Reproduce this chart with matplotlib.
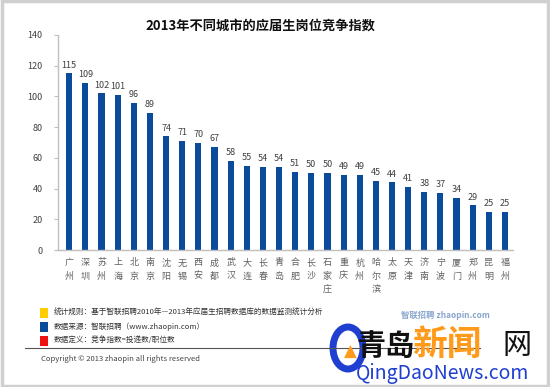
import matplotlib.pyplot as plt
from matplotlib.patches import Rectangle, Ellipse
from matplotlib.lines import Line2D

plt.rcParams['font.family'] = ['Noto Sans CJK SC', 'DejaVu Sans']

cities = ['广州', '深圳', '苏州', '上海', '北京', '南京', '沈阳', '无锡', '西安', '成都',
          '武汉', '大连', '长春', '青岛', '合肥', '长沙', '石家庄', '重庆', '杭州', '哈尔滨',
          '太原', '天津', '济南', '宁波', '厦门', '郑州', '昆明', '福州']
values = [115, 109, 102, 101, 96, 89, 74, 71, 70, 67,
          58, 55, 54, 54, 51, 50, 50, 49, 49, 45,
          44, 41, 38, 37, 34, 29, 25, 25]
y_ticks = [0, 20, 40, 60, 80, 100, 120, 140]

notes = ['统计规则：基于智联招聘2010年—2013年应届生招聘数据库的数据监测统计分析',
         '数据来源：智联招聘（www.zhaopin.com）',
         '数据定义：竞争指数=投递数/职位数']
note_colors = ['#ffcc00', '#0a4b9c', '#ee1111']

bar_color = '#0a4b9c'
axis_gray = '#bfbfbf'

fig = plt.figure(figsize=(5.5, 3.87), dpi=100)
ax = fig.add_axes([58 / 550, 1 - 250 / 387, 455 / 550, 215 / 387])

x = range(len(cities))
ax.bar(x, values, width=0.38, color=bar_color)
for xi, v in zip(x, values):
    ax.text(xi, v + 2.5, str(v), ha='center', va='bottom', fontsize=6.5, color='#404040')

ax.set_xlim(-0.7, len(cities) - 0.5)
ax.set_ylim(0, 140)
ax.set_yticks(y_ticks)
ax.tick_params(axis='y', labelsize=6.5, labelcolor='#404040', color=axis_gray,
               length=3, width=0.8, pad=8)
ax.set_xticks(list(x))
ax.set_xticklabels(['\n'.join(c) for c in cities], fontsize=6.5, color='#606060',
                   linespacing=1.6, va='top')
ax.tick_params(axis='x', length=0, pad=6)
for s in ['top', 'right']:
    ax.spines[s].set_visible(False)
for s in ['left', 'bottom']:
    ax.spines[s].set_color(axis_gray)
    ax.spines[s].set_linewidth(1)

fig.text(260 / 550, 1 - 26 / 387, '2013年不同城市的应届生岗位竞争指数', ha='center', va='center',
         fontsize=9.5, fontweight='bold', color='#111111')

# notes with coloured squares
for i, (t, c) in enumerate(zip(notes, note_colors)):
    yc = 313 + i * 14
    fig.patches.append(Rectangle((40 / 550, 1 - (yc + 5) / 387), 8 / 550, 10 / 387,
                                 transform=fig.transFigure, facecolor=c, edgecolor='none'))
    fig.text(54 / 550, 1 - yc / 387, t, ha='left', va='center', fontsize=5.5, color='#333333')

fig.lines.append(Line2D([25 / 550, 480 / 550], [1 - 348 / 387, 1 - 348 / 387],
                        transform=fig.transFigure, color='#555555', lw=0.8))
fig.text(41 / 550, 1 - 359 / 387, 'Copyright © 2013 zhaopin all rights reserved', ha='left',
         va='center', fontsize=5.5, color='#444444')

# watermark
fig.text(445 / 550, 1 - 315 / 387, '智联招聘 zhaopin.com', ha='center', va='center', fontsize=6,
         color='#6a8fc0', fontweight='bold', style='italic', alpha=0.8)
fig.patches.append(Ellipse((348 / 550, 1 - 348 / 387), 30 / 550, 42 / 387,
                           transform=fig.transFigure, facecolor='none',
                           edgecolor='#1f3fd0', lw=5))
fig.text(350 / 550, 1 - 352 / 387, '▲', ha='center', va='center', fontsize=12,
         color='#ff9a1a', family='DejaVu Sans')
fig.text(356 / 550, 1 - 346 / 387, '青岛', ha='left', va='center', fontsize=21,
         fontweight='bold', color='#111111')
fig.text(412 / 550, 1 - 344 / 387, '新闻', ha='left', va='center', fontsize=25,
         fontweight='bold', color='#ff9a1a')
fig.text(502 / 550, 1 - 346 / 387, '网', ha='left', va='center', fontsize=21,
         color='#111111')
fig.text(356 / 550, 1 - 374 / 387, 'QingDaoNews.com', ha='left', va='center', fontsize=14,
         style='italic', color='#1f3fd0')

# outer grey frame
fig.patches.append(Rectangle((0.003, 0.003), 0.994, 0.994, transform=fig.transFigure,
                             facecolor='none', edgecolor='#d0d0d0', lw=2.5))

fig.savefig('out.png', dpi=100)
